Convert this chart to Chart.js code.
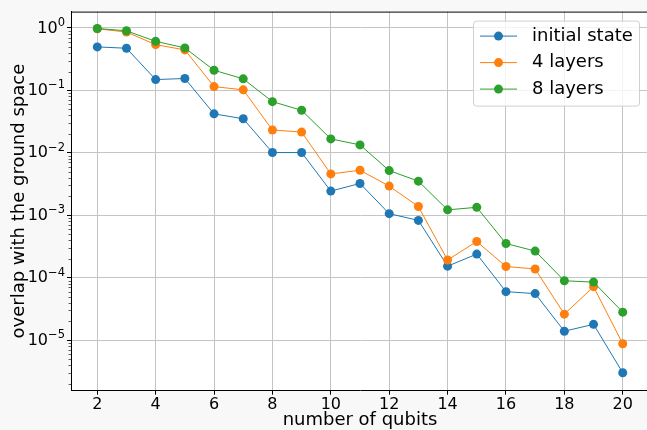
<!DOCTYPE html>
<html>
	<head>
		<meta charset="UTF-8" />
		<title>overlap</title>
		<script src="https://cdn.jsdelivr.net/npm/chart.js@4.4.0/dist/chart.umd.min.js"></script>
		<style>
			body{
				margin: 0;
				background-color: #f8f8f8;
			}
			.chart{
				width: 647px;
				height: 430px;
				overflow: hidden;
			}
		</style>
	</head>
	<body>
		<div class="chart">
			<canvas id="overlapChart" width="660" height="430"></canvas>
		</div>

		<script>
			// data
			var qubits = [2, 3, 4, 5, 6, 7, 8, 9, 10, 11, 12, 13, 14, 15, 16, 17, 18, 19, 20];
			var initialState = [0.497, 0.473, 0.149, 0.155, 0.0421, 0.0351, 0.0101, 0.0101, 0.00244, 0.00323, 0.00106, 0.000828, 1.53e-4, 2.39e-4, 5.98e-5, 5.56e-5, 1.39e-5, 1.79e-5, 3.0e-6];
			var layers4 = [0.97, 0.86, 0.54, 0.445, 0.115, 0.102, 0.0232, 0.0215, 0.00459, 0.00526, 0.00293, 0.00138, 1.92e-4, 3.8e-4, 1.51e-4, 1.38e-4, 2.61e-5, 7.18e-5, 8.75e-6];
			var layers8 = [0.98, 0.90, 0.61, 0.479, 0.21, 0.153, 0.066, 0.048, 0.0167, 0.0134, 0.00519, 0.00352, 0.00122, 0.00134, 3.53e-4, 2.67e-4, 8.93e-5, 8.5e-5, 2.81e-5];

			var seriesNames = ['initial state', '4 layers', '8 layers'];
			var seriesColors = ['#1f77b4', '#ff7f0e', '#2ca02c'];
			var xTicks = [2, 4, 6, 8, 10, 12, 14, 16, 18, 20];
			var yTicks = [1e-5, 1e-4, 1e-3, 1e-2, 1e-1, 1];

			var FONT = 'DejaVu Sans';
			var GRID = '#c4c4c4';

			function makeSet(i, values) {
				return {
					label: seriesNames[i],
					data: qubits.map(function (q, k) { return {x: q, y: values[k]}; }),
					borderColor: seriesColors[i],
					backgroundColor: seriesColors[i],
					borderWidth: 1,
					pointRadius: 4.5,
					pointBorderWidth: 0,
					pointBackgroundColor: seriesColors[i],
					order: 2 - i
				};
			}

			// white plot area, top spine, minor log ticks, 10^n labels
			var frame = {
				id: 'frame',
				beforeDraw: function (chart) {
					var a = chart.chartArea, ctx = chart.ctx;
					ctx.save();
					ctx.fillStyle = '#ffffff';
					ctx.fillRect(a.left, a.top, a.right - a.left, a.bottom - a.top);
					ctx.restore();
				},
				afterDraw: function (chart) {
					var a = chart.chartArea, ctx = chart.ctx, y = chart.scales.y;
					ctx.save();
					ctx.strokeStyle = '#000';
					ctx.lineWidth = 1;
					ctx.beginPath();
					ctx.moveTo(a.left, a.top + 0.5);
					ctx.lineTo(a.right, a.top + 0.5);
					ctx.stroke();
					ctx.lineWidth = 0.6;
					for (var e = -7; e <= 0; e++) {
						for (var m = 2; m <= 9; m++) {
							var v = m * Math.pow(10, e);
							if (v < y.min || v > y.max) continue;
							var py = Math.round(y.getPixelForValue(v)) + 0.5;
							ctx.beginPath();
							ctx.moveTo(a.left - 2.5, py);
							ctx.lineTo(a.left, py);
							ctx.stroke();
						}
					}
					// tick labels as 10 with a raised exponent
					ctx.fillStyle = '#000';
					ctx.textBaseline = 'middle';
					ctx.textAlign = 'left';
					yTicks.forEach(function (t) {
						var ty = y.getPixelForValue(t);
						var ex = String(Math.round(Math.log10(t))).replace('-', '\u2212');
						ctx.font = '11.5px "' + FONT + '"';
						var w2 = ctx.measureText(ex).width;
						ctx.font = '16px "' + FONT + '"';
						var w1 = ctx.measureText('10').width;
						var right = a.left - 6;
						ctx.fillText('10', right - w2 - w1, ty + 0.5);
						ctx.font = '11.5px "' + FONT + '"';
						ctx.fillText(ex, right - w2, ty - 5);
					});
					ctx.restore();
				}
			};

			// legend box in the upper right corner
			var cornerLegend = {
				id: 'cornerLegend',
				afterDraw: function (chart) {
					var a = chart.chartArea, ctx = chart.ctx;
					var bx = a.right - 176, by = a.top + 9, bw = 166, bh = 85;
					ctx.save();
					ctx.fillStyle = 'rgba(255,255,255,0.8)';
					ctx.strokeStyle = '#d0d0d0';
					ctx.lineWidth = 1;
					ctx.beginPath();
					ctx.roundRect(bx + 0.5, by + 0.5, bw, bh, 3);
					ctx.fill();
					ctx.stroke();
					ctx.font = '18px "' + FONT + '"';
					ctx.textBaseline = 'middle';
					ctx.fillStyle = '#000';
					for (var i = 0; i < seriesNames.length; i++) {
						var ly = by + 15.5 + i * 26.5;
						ctx.strokeStyle = seriesColors[i];
						ctx.lineWidth = 1;
						ctx.beginPath();
						ctx.moveTo(bx + 7, ly);
						ctx.lineTo(bx + 44, ly);
						ctx.stroke();
						ctx.fillStyle = seriesColors[i];
						ctx.beginPath();
						ctx.arc(bx + 25.5, ly, 4.5, 0, Math.PI * 2);
						ctx.fill();
						ctx.fillStyle = '#000';
						ctx.fillText(seriesNames[i], bx + 59, ly);
					}
					ctx.restore();
				}
			};

			var overlapChart = new Chart(document.getElementById('overlapChart'), {
				type: 'line',
				data: {
					datasets: [makeSet(0, initialState), makeSet(1, layers4), makeSet(2, layers8)]
				},
				plugins: [frame, cornerLegend],
				options: {
					responsive: false,
					animation: false,
					layout: {padding: {left: 0, top: 8, right: 11, bottom: 0}},
					plugins: {
						legend: {display: false},
						tooltip: {enabled: false}
					},
					scales: {
						x: {
							type: 'linear',
							min: 1.1,
							max: 20.9,
							afterBuildTicks: function (s) { s.ticks = xTicks.map(function (v) { return {value: v}; }); },
							afterFit: function (s) { s.height = 39.3; },
							ticks: {
								color: '#000',
								font: {family: FONT, size: 16},
								padding: 1,
								maxRotation: 0,
								autoSkip: false,
								callback: function (v) { return String(v); }
							},
							grid: {color: GRID, lineWidth: 1, tickColor: '#000', tickLength: 4},
							border: {color: '#000', width: 1},
							title: {
								display: true,
								text: 'number of qubits',
								color: '#000',
								font: {family: FONT, size: 18},
								padding: {top: 0, bottom: -1.5}
							}
						},
						y: {
							type: 'logarithmic',
							min: 1.55e-6,
							max: 1.827,
							afterBuildTicks: function (s) { s.ticks = yTicks.map(function (v) { return {value: v}; }); },
							afterFit: function (s) { s.width = 71; },
							ticks: {
								color: 'rgba(0,0,0,0)',
								font: {family: FONT, size: 16},
								padding: 2,
								autoSkip: false,
								callback: function (v) { return '10' + v; }
							},
							grid: {color: GRID, lineWidth: 1, tickColor: '#000', tickLength: 4},
							border: {color: '#000', width: 1},
							title: {
								display: true,
								text: 'overlap with the ground space',
								color: '#000',
								font: {family: FONT, size: 18},
								padding: {top: 9, bottom: 0}
							}
						}
					}
				}
			});
		</script>
	</body>
</html>
